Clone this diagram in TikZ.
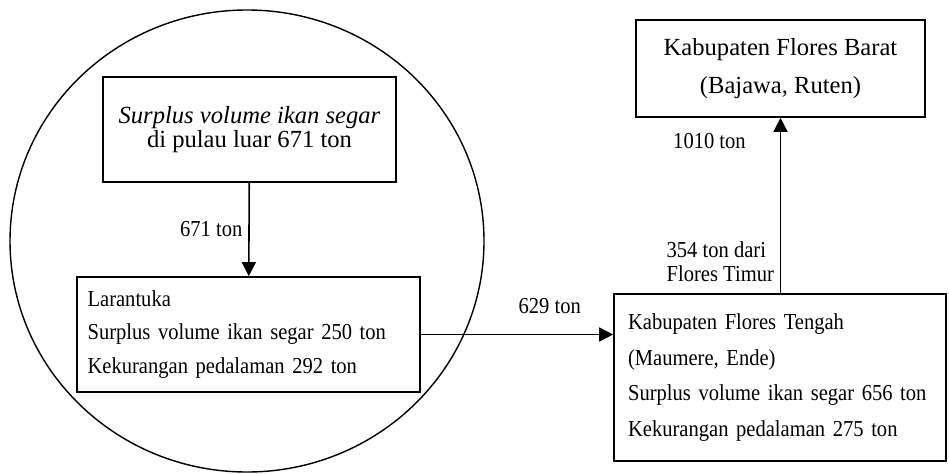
\documentclass[tikz,border=0pt]{standalone}
\usepackage{fontspec}
\setmainfont{Liberation Serif}
\newfontfamily\narrowserif[FakeStretch=0.9]{Liberation Serif}
\usetikzlibrary{arrows.meta}

\begin{document}
\begin{tikzpicture}[x=0.02cm,y=-0.02cm,
    box/.style={draw,line width=1pt,inner sep=0pt},
    flow/.style={line width=0.9pt,-{Triangle[width=8pt,length=8pt]}},
    lbl/.style={font=\narrowserif\fontsize{13}{14}\selectfont}]

      \useasboundingbox (0,0) rectangle (949,473);
      % circle round the Larantuka area
      \draw[line width=0.8pt] (247,241) ellipse [x radius=237, y radius=231];

      \path (249.5,129.5) node [box,minimum width=5.86cm,minimum height=2.1cm,align=center,
        font=\fontsize{14}{14}\selectfont](var_luar){\textit{Surplus volume ikan segar}\\di pulau luar 671 ton};
      \path (248.5,334.5) node [box,minimum height=2.3cm,inner xsep=6pt,text width=6.86cm-12pt,align=left,
        font=\narrowserif\fontsize{13}{19}\selectfont](var_larantuka){Larantuka\\Surplus volume ikan segar 250 ton\\Kekurangan pedalaman 292 ton};
      \path (780,377.5) node [box,minimum height=3.34cm,inner xsep=8pt,text width=6.64cm-16pt,align=left,
        font=\narrowserif\fontsize{13}{20.3}\selectfont](var_tengah){Kabupaten Flores Tengah\\(Maumere, Ende)\\Surplus volume ikan segar 656 ton\\Kekurangan pedalaman 275 ton};
      \path (780.5,68.5) node [box,minimum width=5.78cm,minimum height=1.94cm,align=center,
        font=\fontsize{14}{22}\selectfont](var_barat){Kabupaten Flores Barat\\(Bajawa, Ruten)};

      \draw[flow] (var_luar) -- node[left,lbl]{671 ton} (var_larantuka);
      \draw[flow] (var_larantuka.east) -- node[above,lbl,pos=0.67,yshift=8pt]{629 ton} (var_larantuka.east -| var_tengah.west);
      \draw[flow] (var_tengah.north -| var_barat.south) -- node[left,lbl,pos=0.87,xshift=-16pt]{1010 ton}
        node[left,lbl,pos=0.18,align=left]{354 ton dari\\Flores Timur} (var_barat.south);

    \end{tikzpicture}
\end{document}
